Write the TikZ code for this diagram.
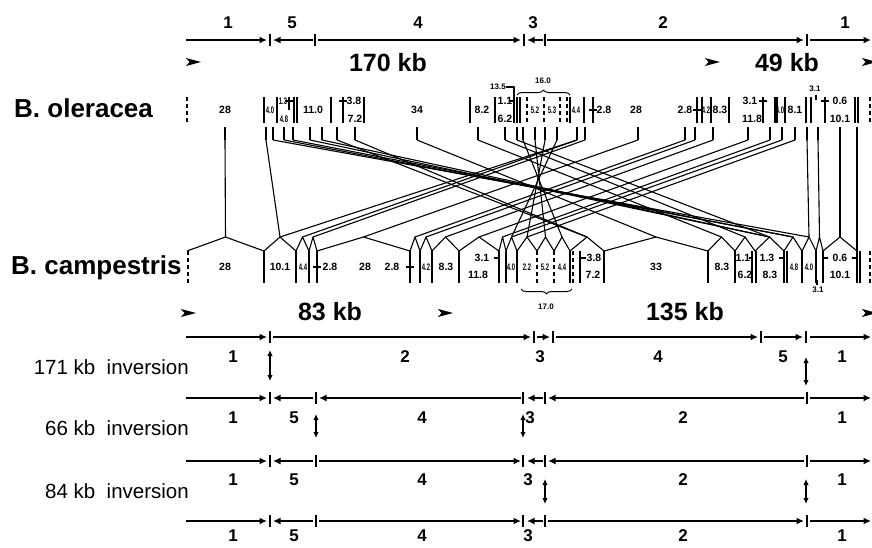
\documentclass[tikz,border=0pt]{standalone}
\usepackage{fontspec}
\setsansfont{Liberation Sans}
\usetikzlibrary{arrows.meta,decorations.pathreplacing}

\begin{document}
\begin{tikzpicture}[x=1pt,y=-1pt,line join=round]
  \tikzstyle{region}=[font=\sffamily\bfseries\fontsize{17}{17}\selectfont,inner sep=0pt]
  \tikzstyle{kb}=[font=\sffamily\bfseries\fontsize{25}{25}\selectfont,inner sep=0pt]
  \tikzstyle{species}=[font=\sffamily\bfseries\fontsize{26}{26}\selectfont,inner sep=0pt,anchor=west]
  \tikzstyle{inversion}=[font=\sffamily\fontsize{20.5}{20.5}\selectfont,inner sep=0pt,anchor=east]
  \tikzstyle{frag}=[font=\sffamily\bfseries\fontsize{10.5}{10.5}\selectfont,inner sep=0pt]
  \tikzstyle{fragsq}=[font=\sffamily\bfseries\fontsize{9.5}{9.5}\selectfont,inner sep=0pt]
  \tikzstyle{fragtiny}=[font=\sffamily\bfseries\fontsize{8}{8}\selectfont,inner sep=0pt]
  \tikzstyle{segment}=[line width=2.3pt,-{Latex[length=7.5pt,width=7pt]}]
  \tikzstyle{border}=[line width=1.4pt]
  \tikzstyle{bound}=[line width=1.3pt]
  \tikzstyle{wire}=[line width=1.1pt]
  \tikzstyle{flip}=[line width=1.2pt,{Latex[length=6pt,width=5.5pt]}-{Latex[length=6pt,width=5.5pt]}]
  \tikzstyle{brace}=[line width=1pt,decorate,decoration={brace,amplitude=5pt}]
  \useasboundingbox (0,0) rectangle (872,547);

  %Mapa B. oleracea
  \foreach \a/\b in {186/267,313/273,318/521,543/527,547/804,810/871}
    \draw[segment] (\a,40) -- (\b,40);
  \foreach \t in {270,315,524,545,807}
    \draw[border] (\t,34) -- (\t,46);
  \foreach \t/\x [count=\i] in {1/228,5/292,4/418,3/533,2/663,1/845}
    \node[region] (top\i) at (\x,23) {\t};
  \foreach \x [count=\i] in {186,705,862}
    \fill (\x,58) -- ++(15,4) -- ++(-15,4) -- ++(3.5,-4) -- cycle;
  \node[kb] (kbtop1) at (388,63) {170 kb};
  \node[kb] (kbtop2) at (787,63) {49 kb};

  %Fila oleracea
  \node[species] (ole) at (14,108) {B. oleracea};
  \foreach \x in {264,277,294,297,331,343,364,470,495,514,517,520,570,584,593,697,702,711,729,763,775,777,785,806,811,825,855,858}
    \draw[bound] (\x,97) -- (\x,123);
  \draw[line width=2pt] (264,97) -- (264,123);
  \draw[bound] (289,97) -- (289,110);
  \draw[bound] (816,95) -- (816,100);
  \foreach \x in {187,527,544,560,567,870}
    \draw[bound,dash pattern=on 4pt off 3pt] (\x,97) -- (\x,123);
  \foreach \a/\b/\y in {285/293/101,339/347/101,510/514/101,589/597/110,693/701/110,759/767/101,821/829/101}
    \draw[bound] (\a,\y) -- (\b,\y);
  \foreach \t/\x/\y [count=\i] in {28/225/110,11.0/313/110,34/417/110,8.2/482/110,2.8/604/110,28/636/110,2.8/685/110,8.3/720/110,8.1/795/110,3.8/354/101,7.2/355/119,1.1/505/101,6.2/505/119,3.1/750/101,11.8/752/119,0.6/840/101,10.1/840/119}
    \node[frag] (fo\i) at (\x,\y) {\t};
  \foreach \t/\x/\y [count=\i] in {4.0/270/110,1.3/283/101,4.8/284/119,5.2/535/110,5.3/552/110,4.4/576/110,4.2/706/110,4.0/780/110}
    \node[fragsq] (so\i) at (\x,\y) {\scalebox{0.62}[1]{\t}};
  \node[fragtiny] (n135) at (498,87) {13.5};
  \draw[wire] (n135.east) -- (514,87) -- (514,97);
  \draw[brace] (517,95) -- (570,95);
  \node[fragtiny] (n160) at (543,81) {16.0};
  \node[fragtiny] (n31o) at (815,89) {3.1};

  %Fila campestris
  \node[species] (cam) at (11,268) {B. campestris};
  \foreach \n/\x in {1/225.5,2/280,3/302.5,4/313,5/363.5,6/415,7/426,8/445.5,9/479,10/502.5,11/511.5,12/527,13/545.5,14/562,15/587,16/656,17/721.5,18/745,19/769.5,20/793,21/809,22/819.5,23/840}
    \coordinate (c\n) at (\x,237);
  \draw[wire] (187,251) foreach \n/\b in {1/264,2/296,3/309,4/317,5/410,6/420,7/432,8/459,9/499,10/506,11/517,12/537,13/554,14/570,15/604,16/708,17/735,18/755,19/784,20/802,21/816,22/823,23/857} { -- (c\n) -- (\b,251) };
  \foreach \x in {264,296,309,317,410,420,432,459,499,506,517,570,580,604,708,735,752,756,784,787,802,816,823,857,860}
    \draw[bound] (\x,251) -- (\x,283);
  \foreach \x in {188,537,554,573,870}
    \draw[bound,dash pattern=on 4pt off 3pt] (\x,251) -- (\x,283);
  \draw[bound] (817,280) -- (817,285);
  \foreach \a/\b/\y in {313/321/267,406/414/267,494/499/258,580/586/258,749/753/258,779/784/258,823/828/258,852/857/258}
    \draw[bound] (\a,\y) -- (\b,\y);
  \foreach \t/\x/\y [count=\i] in {28/225/267,10.1/280/267,2.8/330/267,28/365/267,2.8/392/267,8.3/446/267,3.1/482/258,11.8/478/275,3.8/594/258,7.2/593/275,33/656/267,8.3/722/267,1.1/743/258,6.2/745/275,1.3/767/258,8.3/770/275,0.6/840/258,10.1/840/275}
    \node[frag] (fc\i) at (\x,\y) {\t};
  \foreach \t/\x/\y [count=\i] in {4.4/303/267,4.2/426/267,4.0/511/267,2.2/527/267,5.2/545/267,4.4/562/267,4.8/794/267,4.0/809/267}
    \node[fragsq] (sc\i) at (\x,\y) {\scalebox{0.62}[1]{\t}};
  \node[fragtiny] (n31c) at (818,290) {3.1};
  \draw[brace] (572,289) -- (521,289);
  \node[fragtiny] (n170) at (546,307) {17.0};

  %Conexiones
  \foreach \n/\x in {1/225,2/266,3/273,4/284,5/293,6/310,7/322,8/337,9/355,10/417,11/478,12/505,13/517,14/523,15/535,16/545,17/557,18/577,19/585,20/638,21/685,22/695,23/713,24/748,25/770,26/782,27/795,28/807,29/818,30/840,31/857}
    {\coordinate (o\n) at (\x,140);
     \draw[wire] (\x,127) -- (o\n);}
  \foreach \a/\b in {1/1,2/2,3/21,4/20,5/20,6/19,7/19,8/15,9/15,10/16,11/17,12/18,13/19,14/14,15/13,16/12,17/11,18/2,18/3,19/4,20/5,21/6,22/7,23/8,24/9,25/10,26/11,27/12,28/21,29/22,30/23}
    \draw[wire] (o\a) -- (c\b);
  \draw[wire] (o31) -- (857,251);

  %Mapa B. campestris
  \foreach \x in {181,438,862}
    \fill (\x,309) -- ++(15,4) -- ++(-15,4) -- ++(3.5,-4) -- cycle;
  \node[kb] (kbbot1) at (330,312) {83 kb};
  \node[kb] (kbbot2) at (685,312) {135 kb};
  \foreach \a/\b in {186/267,273/531,537/550,556/758,764/803,810/871}
    \draw[segment] (\a,337) -- (\b,337);
  \foreach \t in {270,534,553,761,806}
    \draw[border] (\t,331) -- (\t,343);
  \foreach \t/\x [count=\i] in {1/233,2/405,3/540,4/658,5/783,1/842}
    \node[region] (ra\i) at (\x,357) {\t};
  \node[inversion] (inv1) at (189,367) {171 kb\ \ inversion};
  \draw[flip] (270,350) -- (270,381);
  \draw[flip] (806,357) -- (806,386);

  %66 kb
  \foreach \a/\b in {186/267,313/273,521/319,543/527,804/548,810/871}
    \draw[segment] (\a,398) -- (\b,398);
  \foreach \t in {270,316,523,545,807}
    \draw[border] (\t,392) -- (\t,404);
  \foreach \t/\x [count=\i] in {1/233,5/294,4/422,3/530,2/683,1/842}
    \node[region] (rb\i) at (\x,418) {\t};
  \node[inversion] (inv2) at (189,428) {66 kb\ \ inversion};
  \draw[flip] (316,414) -- (316,438);
  \draw[flip] (523,414) -- (523,438);

  %84 kb
  \foreach \a/\b in {186/267,313/273,319/521,543/527,804/548,810/871}
    \draw[segment] (\a,461) -- (\b,461);
  \foreach \t in {270,316,523,545,807}
    \draw[border] (\t,455) -- (\t,467);
  \foreach \t/\x [count=\i] in {1/233,5/294,4/422,3/528,2/683,1/842}
    \node[region] (rc\i) at (\x,480) {\t};
  \node[inversion] (inv3) at (189,491) {84 kb\ \ inversion};
  \draw[flip] (545,479) -- (545,504);
  \draw[flip] (806,479) -- (806,504);

  %Resultado
  \foreach \a/\b in {186/267,313/273,319/521,543/527,548/804,810/871}
    \draw[segment] (\a,521) -- (\b,521);
  \foreach \t in {270,316,523,545,807}
    \draw[border] (\t,515) -- (\t,527);
  \foreach \t/\x [count=\i] in {1/233,5/294,4/422,3/528,2/683,1/842}
    \node[region] (rd\i) at (\x,536) {\t};
\end{tikzpicture}
\end{document}
